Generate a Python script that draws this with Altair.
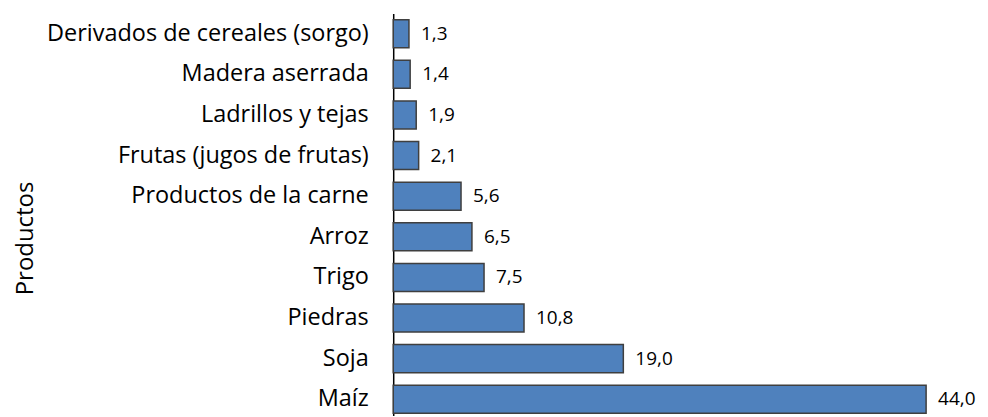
import altair as alt
import pandas as pd

categories = [
    "Derivados de cereales (sorgo)",
    "Madera aserrada",
    "Ladrillos y tejas",
    "Frutas (jugos de frutas)",
    "Productos de la carne",
    "Arroz",
    "Trigo",
    "Piedras",
    "Soja",
    "Maíz",
]
values = [1.3, 1.4, 1.9, 2.1, 5.6, 6.5, 7.5, 10.8, 19.0, 44.0]

df = pd.DataFrame({"producto": categories, "valor": values})

FONT = "Open Sans"

y = alt.Y(
    "producto:N",
    sort=categories,
    scale=alt.Scale(paddingInner=0.31, paddingOuter=0.106, align=0.73),
    axis=alt.Axis(
        title="Productos",
        labelFontSize=23.5,
        labelFont=FONT,
        labelColor="#000000",
        labelPadding=25,
        labelLimit=500,
        ticks=False,
        tickSize=0,
        domainColor="#000000",
        domainWidth=1.5,
        titleFont=FONT,
        titleFontSize=24,
        titleFontWeight="normal",
        titleColor="#000000",
        titleX=-361,
        titleY=225,
        titleBaseline="alphabetic",
    ),
)
x = alt.X(
    "valor:Q",
    scale=alt.Scale(domain=[0, 44], nice=False, zero=True),
    axis=None,
)

base = alt.Chart(df).encode(y=y, x=x)
bars = base.mark_bar(color="#4F81BD", stroke="#3F3F3F", strokeWidth=1.5)
text = (
    base.transform_calculate(lbl="replace(format(datum.valor, '.1f'), '.', ',')")
    .mark_text(align="left", baseline="middle", dx=12, fontSize=19, font=FONT, color="#000000")
    .encode(text="lbl:N")
)

chart = (
    (bars + text)
    .properties(
        width=534,
        height=403,
        padding={"left": 386, "top": 5, "right": 54, "bottom": 0},
        autosize=alt.AutoSizeParams(type="none"),
    )
    .configure_view(stroke=None)
)

chart.save("out.html", embed_options={"renderer": "svg", "actions": False})
